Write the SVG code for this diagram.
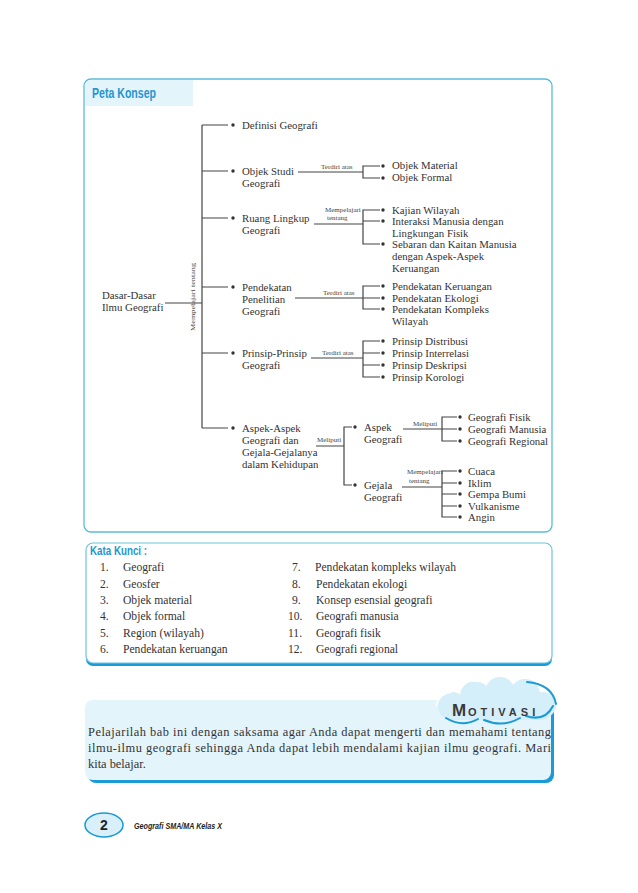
<svg xmlns="http://www.w3.org/2000/svg" width="638" height="893" viewBox="0 0 638 893">
<style>
.t{font-family:"Liberation Serif","DejaVu Serif",serif;font-size:10.8px;fill:#333}
.k{font-family:"Liberation Serif","DejaVu Serif",serif;font-size:11.6px;fill:#333}
.lb{font-family:"Liberation Serif","DejaVu Serif",serif;font-size:7px;fill:#444}
.m{font-family:"Liberation Serif","DejaVu Serif",serif;font-size:12.4px;fill:#333}
.h{font-family:"Liberation Sans","Arial",sans-serif;font-weight:bold;fill:#2596d1}
.ln{fill:none;stroke:#444;stroke-width:1.2}
.b{fill:#333}
</style>
<rect width="638" height="893" fill="#ffffff"/>

<!-- Peta Konsep frame -->
<g id="peta-konsep-frame">
<rect x="84" y="79" width="468" height="453" rx="7" fill="#ffffff" stroke="#5bbcd9" stroke-width="1.3"/>
<path d="M85 106 V87 Q85 80 92 80 H193 V106 Z" fill="#e4f4fb"/>
<text class="h" x="92" y="98" font-size="14" textLength="64" lengthAdjust="spacingAndGlyphs">Peta Konsep</text>
</g>

<!-- connectors -->
<g id="connectors">
<path class="ln" d="M165 303 H202"/>
<path class="ln" d="M202 125 V428 M202 125 H228 M202 171 H228 M202 218 H228 M202 287 H228 M202 353 H228 M202 428 H228"/>
<path class="ln" d="M298 172 H363 M380 166 H363 V178 H380"/>
<path class="ln" d="M314 224 H363 M380 210 H363 V244 H380 M363 221 H380"/>
<path class="ln" d="M295 298 H363 M380 286 H363 V309 H380 M363 298 H380"/>
<path class="ln" d="M311 358 H363 M380 341 H363 V377 H380 M363 353 H380 M363 365 H380"/>
<path class="ln" d="M316 446 H344 M352 427 H344 V485 H352"/>
<path class="ln" d="M403 429 H442 M457 417 H442 V441 H457 M442 429 H457"/>
<path class="ln" d="M402 487 H442 M457 471 H442 V517 H457 M442 483 H457 M442 494 H457 M442 506 H457"/>
</g>

<!-- connector labels -->
<g id="labels">
<text class="lb" transform="translate(195,331) rotate(-90)" textLength="68" lengthAdjust="spacingAndGlyphs">Mempelajari tentang</text>
<text class="lb" x="321" y="169">Terdiri atas</text>
<text class="lb" x="325" y="212">Mempelajari</text>
<text class="lb" x="327" y="220">tentang</text>
<text class="lb" x="323" y="295">Terdiri atas</text>
<text class="lb" x="322" y="355">Terdiri atas</text>
<text class="lb" x="317" y="442">Meliputi</text>
<text class="lb" x="413" y="426">Meliputi</text>
<text class="lb" x="407" y="474">Mempelajari</text>
<text class="lb" x="409" y="483">tentang</text>
</g>

<!-- nodes -->
<g id="n-dasar">
<text class="t" x="102" y="299">Dasar-Dasar</text>
<text class="t" x="102" y="311">Ilmu Geografi</text>
</g>

<g id="n-definisi">
<circle class="b" cx="233" cy="125" r="1.7"/>
<text class="t" x="242" y="129">Definisi Geografi</text>
</g>

<g id="n-objek-studi">
<circle class="b" cx="233" cy="171" r="1.7"/>
<text class="t" x="242" y="175">Objek Studi</text>
<text class="t" x="242" y="187">Geografi</text>
</g>

<g id="n-objek-items">
<circle class="b" cx="383" cy="166" r="1.7"/>
<text class="t" x="392" y="169">Objek Material</text>
<circle class="b" cx="383" cy="178" r="1.7"/>
<text class="t" x="392" y="181">Objek Formal</text>
</g>

<g id="n-ruang">
<circle class="b" cx="233" cy="218" r="1.7"/>
<text class="t" x="242" y="222">Ruang Lingkup</text>
<text class="t" x="242" y="234">Geografi</text>
</g>

<g id="n-ruang-items">
<circle class="b" cx="383" cy="210" r="1.7"/>
<text class="t" x="392" y="214">Kajian Wilayah</text>
<circle class="b" cx="383" cy="221" r="1.7"/>
<text class="t" x="392" y="225">Interaksi Manusia dengan</text>
<text class="t" x="392" y="237">Lingkungan Fisik</text>
<circle class="b" cx="383" cy="244" r="1.7"/>
<text class="t" x="392" y="248">Sebaran dan Kaitan Manusia</text>
<text class="t" x="392" y="260">dengan Aspek-Aspek</text>
<text class="t" x="392" y="272">Keruangan</text>
</g>

<g id="n-pendekatan">
<circle class="b" cx="233" cy="287" r="1.7"/>
<text class="t" x="242" y="291">Pendekatan</text>
<text class="t" x="242" y="303">Penelitian</text>
<text class="t" x="242" y="315">Geografi</text>
</g>

<g id="n-pendekatan-items">
<circle class="b" cx="383" cy="286" r="1.7"/>
<text class="t" x="392" y="290">Pendekatan Keruangan</text>
<circle class="b" cx="383" cy="298" r="1.7"/>
<text class="t" x="392" y="302">Pendekatan Ekologi</text>
<circle class="b" cx="383" cy="309" r="1.7"/>
<text class="t" x="392" y="313">Pendekatan Kompleks</text>
<text class="t" x="392" y="325">Wilayah</text>
</g>

<g id="n-prinsip">
<circle class="b" cx="233" cy="353" r="1.7"/>
<text class="t" x="242" y="357">Prinsip-Prinsip</text>
<text class="t" x="242" y="369">Geografi</text>
</g>

<g id="n-prinsip-items">
<circle class="b" cx="383" cy="341" r="1.7"/>
<text class="t" x="392" y="345">Prinsip Distribusi</text>
<circle class="b" cx="383" cy="353" r="1.7"/>
<text class="t" x="392" y="357">Prinsip Interrelasi</text>
<circle class="b" cx="383" cy="365" r="1.7"/>
<text class="t" x="392" y="369">Prinsip Deskripsi</text>
<circle class="b" cx="383" cy="377" r="1.7"/>
<text class="t" x="392" y="381">Prinsip Korologi</text>
</g>

<g id="n-aspek">
<circle class="b" cx="233" cy="428" r="1.7"/>
<text class="t" x="242" y="432">Aspek-Aspek</text>
<text class="t" x="242" y="444">Geografi dan</text>
<text class="t" x="242" y="456">Gejala-Gejalanya</text>
<text class="t" x="242" y="468">dalam Kehidupan</text>
</g>

<g id="n-aspek-geografi">
<circle class="b" cx="355" cy="427" r="1.7"/>
<text class="t" x="364" y="431">Aspek</text>
<text class="t" x="364" y="443">Geografi</text>
</g>

<g id="n-aspek-geografi-items">
<circle class="b" cx="460" cy="417" r="1.7"/>
<text class="t" x="468" y="421">Geografi Fisik</text>
<circle class="b" cx="460" cy="429" r="1.7"/>
<text class="t" x="468" y="433">Geografi Manusia</text>
<circle class="b" cx="460" cy="441" r="1.7"/>
<text class="t" x="468" y="445">Geografi Regional</text>
</g>

<g id="n-gejala">
<circle class="b" cx="355" cy="485" r="1.7"/>
<text class="t" x="364" y="489">Gejala</text>
<text class="t" x="364" y="501">Geografi</text>
</g>

<g id="n-gejala-items">
<circle class="b" cx="460" cy="471" r="1.7"/>
<text class="t" x="468" y="475">Cuaca</text>
<circle class="b" cx="460" cy="483" r="1.7"/>
<text class="t" x="468" y="487">Iklim</text>
<circle class="b" cx="460" cy="494" r="1.7"/>
<text class="t" x="468" y="498">Gempa Bumi</text>
<circle class="b" cx="460" cy="506" r="1.7"/>
<text class="t" x="468" y="510">Vulkanisme</text>
<circle class="b" cx="460" cy="517" r="1.7"/>
<text class="t" x="468" y="521">Angin</text>
</g>

<!-- Kata Kunci -->
<g id="kata-kunci">
<rect x="86" y="546" width="466" height="120" rx="7" fill="#1a9ad7"/>
<rect x="86" y="543" width="466" height="120" rx="7" fill="#ffffff" stroke="#6cc4de" stroke-width="1.2"/>
<text class="h" x="90" y="555" font-size="13" textLength="57" lengthAdjust="spacingAndGlyphs">Kata Kunci :</text>
<text class="k" x="100" y="571">1.</text><text class="k" x="123" y="571">Geografi</text>
<text class="k" x="100" y="588">2.</text><text class="k" x="123" y="588">Geosfer</text>
<text class="k" x="100" y="604">3.</text><text class="k" x="123" y="604">Objek material</text>
<text class="k" x="100" y="620">4.</text><text class="k" x="123" y="620">Objek formal</text>
<text class="k" x="100" y="637">5.</text><text class="k" x="123" y="637">Region (wilayah)</text>
<text class="k" x="100" y="653">6.</text><text class="k" x="123" y="653">Pendekatan keruangan</text>
<text class="k" x="292" y="571">7.</text><text class="k" x="315" y="571">Pendekatan kompleks wilayah</text>
<text class="k" x="292" y="588">8.</text><text class="k" x="316" y="588">Pendekatan ekologi</text>
<text class="k" x="292" y="604">9.</text><text class="k" x="316" y="604">Konsep esensial geografi</text>
<text class="k" x="288" y="620">10.</text><text class="k" x="316" y="620">Geografi manusia</text>
<text class="k" x="288" y="637">11.</text><text class="k" x="316" y="637">Geografi fisik</text>
<text class="k" x="288" y="653">12.</text><text class="k" x="316" y="653">Geografi regional</text>
</g>

<!-- Motivasi -->
<g id="motivasi">
<rect x="88" y="703" width="466" height="80" rx="8" fill="#1a9ad7"/>
<rect x="85" y="700" width="466" height="80" rx="8" fill="#e3f4fb"/>
<g id="cloud">
<circle cx="452" cy="706" r="14" fill="#d4eefa"/>
<circle cx="475" cy="696" r="15" fill="#d4eefa"/>
<circle cx="500" cy="692" r="15" fill="#d4eefa"/>
<circle cx="525" cy="694" r="15" fill="#d4eefa"/>
<circle cx="543" cy="705" r="13" fill="#d4eefa"/>
<rect x="442" y="700" width="108" height="20" rx="8" fill="#d4eefa"/>
<path d="M446 718 Q462 728 478 719 M484 720 Q503 728 520 718 M526 716 Q545 722 553 706 M527 682 Q552 684 556 704" fill="none" stroke="#1a9ad7" stroke-width="2" stroke-linecap="round"/>
<path d="M436 706 Q440 693 452 692 M458 686 Q470 678 486 683" fill="none" stroke="#ffffff" stroke-width="1.5"/>
</g>
<text class="h" x="452" y="716" font-size="17" style="fill:#3a3a3a">M</text>
<text class="h" x="468" y="716" font-size="11" style="fill:#3a3a3a" letter-spacing="4">OTIVASI</text>
<text class="m" x="88" y="736" textLength="463" lengthAdjust="spacing">Pelajarilah bab ini dengan saksama agar Anda dapat mengerti dan memahami tentang</text>
<text class="m" x="88" y="752" textLength="463" lengthAdjust="spacing">ilmu-ilmu geografi sehingga Anda dapat lebih mendalami kajian ilmu geografi. Mari</text>
<text class="m" x="88" y="768">kita belajar.</text>
</g>

<!-- footer -->
<g id="footer">
<ellipse cx="104" cy="825" rx="19" ry="12" fill="#d9f0fa" stroke="#1a9ad7" stroke-width="1.5"/>
<text x="104" y="830" text-anchor="middle" font-family="Liberation Sans, Arial, sans-serif" font-weight="bold" font-size="14" fill="#222">2</text>
<text x="134" y="829" font-family="Liberation Sans, Arial, sans-serif" font-weight="bold" font-style="italic" font-size="9.5" fill="#222" textLength="88" lengthAdjust="spacingAndGlyphs">Geografi SMA/MA Kelas X</text>
</g>
</svg>
